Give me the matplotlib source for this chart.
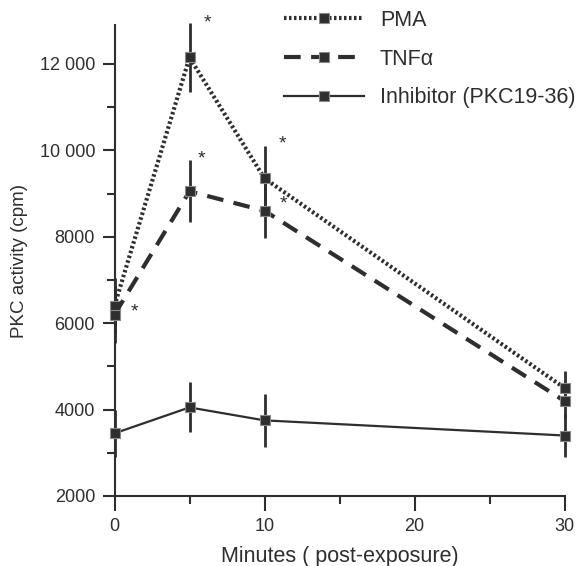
import numpy as np
import matplotlib
matplotlib.use('Agg')
import matplotlib.pyplot as plt
from matplotlib.ticker import MultipleLocator

plt.rcParams['font.family'] = ['Liberation Sans', 'DejaVu Sans']

# dados
minutos = [0, 5, 10, 30]
pma = [6400, 12150, 9350, 4500]
pma_err = [650, 800, 750, 400]
tnf = [6200, 9050, 8600, 4200]
tnf_err = [650, 720, 620, 400]
inib = [3450, 4050, 3750, 3400]
inib_err = [550, 580, 620, 500]

# asteriscos (posicao x, y)
ast_x = [6.2, 5.8, 11.2, 11.25, 1.3]
ast_y = [12950, 9800, 10150, 8750, 6250]

cor = '#2e2e2e'
estilos = [(0, (0.6, 0.6)), (0, (4, 2.5)), '-']
larguras = [3, 3, 1.6]
nomes = ['PMA', 'TNFα', 'Inhibitor (PKC19-36)']

fig = plt.figure(figsize=(5.81, 5.66), dpi=100)
ax = fig.add_axes([114.5/581, 1 - 496/566, (564.5 - 114.5)/581, (496 - 25)/566])

for y, e, ls, lw, nome in zip([pma, tnf, inib], [pma_err, tnf_err, inib_err],
                              estilos, larguras, nomes):
    ax.errorbar(minutos, y, yerr=e, fmt='none', ecolor=cor, elinewidth=2,
                capsize=0, clip_on=False, zorder=2)
    ax.plot(minutos, y, color=cor, ls=ls, lw=lw, marker='s', ms=7.5, mfc=cor,
            mec='#8a8a8a', mew=0.8, clip_on=False, label=nome, zorder=3)

for x, y in zip(ast_x, ast_y):
    ax.text(x, y, '*', fontsize=14, color=cor, ha='center', va='center', clip_on=False)

ax.set_xlim(0, 30)
ax.set_ylim(2000, 12900)
ax.xaxis.set_major_locator(MultipleLocator(10))
ax.xaxis.set_minor_locator(MultipleLocator(5))
ax.yaxis.set_minor_locator(MultipleLocator(1000))
ax.set_yticks([2000, 4000, 6000, 8000, 10000, 12000])
ax.set_yticklabels(['2000', '4000', '6000', '8000', '10 000', '12 000'])

for s in ['top', 'right']:
    ax.spines[s].set_visible(False)
for s in ['left', 'bottom']:
    ax.spines[s].set_linewidth(1.5)
    ax.spines[s].set_color(cor)

ax.tick_params(which='major', direction='out', length=9, width=1.5, color=cor,
               labelsize=13, labelcolor=cor, pad=5)
ax.tick_params(which='minor', direction='out', length=6, width=1.5, color=cor)
ax.tick_params(axis='x', which='major', length=11)

ax.set_xlabel('Minutes ( post-exposure)', fontsize=15.5, color=cor, labelpad=8)
ax.set_ylabel('PKC activity (cpm)', fontsize=13.5, color=cor, labelpad=8)

leg = fig.legend(loc='upper left', bbox_to_anchor=(284/581, 1 - 10/566), frameon=False,
                 handlelength=3.7, handletextpad=0.75, labelspacing=0.82, fontsize=15.5,
                 borderpad=0, borderaxespad=0, numpoints=1)
for t in leg.get_texts():
    t.set_color(cor)

fig.savefig('out.png', dpi=100)
